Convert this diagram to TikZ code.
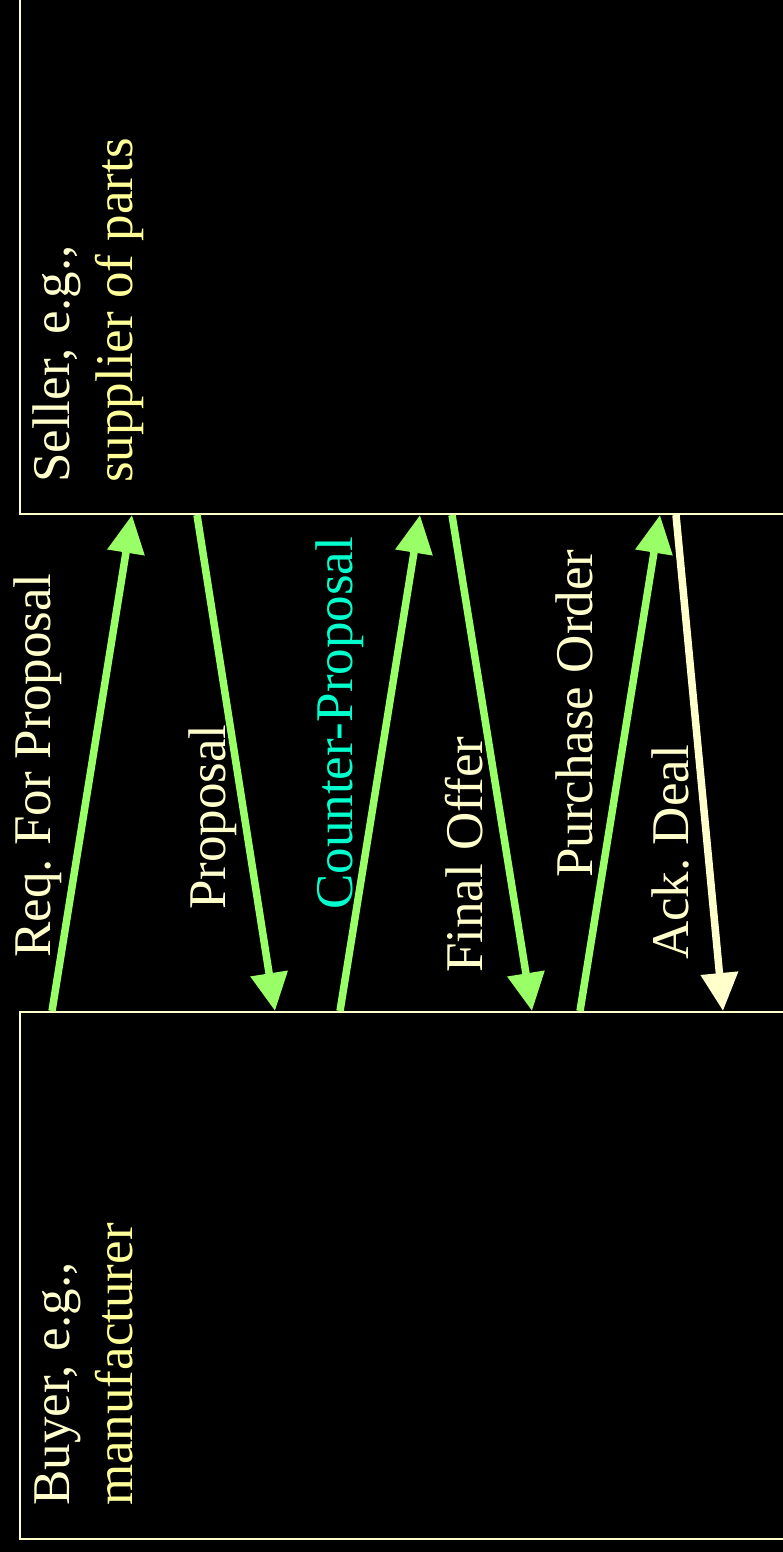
\documentclass[tikz,border=0pt]{standalone}
\usepackage{fontspec}
\setmainfont{Liberation Serif}
\usepackage{tikz}
\usetikzlibrary{arrows.meta, positioning, calc}
\definecolor{negGreen}{HTML}{99FF66}
\definecolor{negCream}{HTML}{FFFFCC}
\definecolor{negYellow}{HTML}{FFFF99}
\definecolor{negCyan}{HTML}{00FFCC}
\definecolor{negBlack}{HTML}{000000}
\frenchspacing

\begin{document}
\begin{tikzpicture}[
  x=1pt, y=-1pt,
  %% --- Node styles ---
  party/.style={
    rectangle, draw=negCream, line width=2.2pt,
    minimum width=800pt, inner sep=0pt
  },
  partytext/.style={
    rotate=90, anchor=north west, inner sep=0pt,
    align=left, font=\fontsize{53}{63}\selectfont\frenchspacing, text=negCream
  },
  msgtext/.style={
    rotate=90, anchor=base west, inner sep=0pt,
    font=\fontsize{53}{63}\selectfont\frenchspacing, text=negCream
  },
  %% --- Arrow style ---
  arrow/.style={-{Triangle[length=38pt, width=36pt]}, line width=7.5pt, draw=negGreen},
  arrowCream/.style={-{Triangle[length=38pt, width=36pt]}, line width=7.5pt, draw=negCream}
]

%% =========================================================
%% CANVAS
%% =========================================================
\useasboundingbox (0,0) rectangle (783,1552);
\fill[negBlack] (0,0) rectangle (783,1552);
\clip (0,0) rectangle (783,1552);

%% =========================================================
%% PARTIES
%% =========================================================
\node (seller) [party, minimum height=540pt, anchor=south west] at (19,515) {};
\node (buyer)  [party, minimum height=527pt, anchor=north west] at (19,1011) {};

\node (sellerText) [partytext] at (33,483)
      {Seller, e.g.,\\\textcolor{negYellow}{supplier of parts}};
\node (buyerText)  [partytext] at (35,1506)
      {Buyer, e.g.,\\\textcolor{negYellow}{manufacturer}};

%% =========================================================
%% MESSAGE LABELS
%% =========================================================
\node (rfpText)      [msgtext] at (50,958)  {Req. For Proposal};
\node (propText)     [msgtext] at (225,910) {Proposal};
\node (counterText)  [msgtext, text=negCyan] at (352,910) {Counter-Proposal};
\node (finalText)    [msgtext] at (482,973) {Final Offer};
\node (orderText)    [msgtext] at (592,878) {Purchase Order};
\node (ackText)      [msgtext] at (688,960) {Ack. Deal};

%% =========================================================
%% MESSAGES
%% =========================================================
\draw[arrow] ([xshift=33pt]buyer.north west)   -- ([xshift=113pt]seller.south west);
\draw[arrow] ([xshift=178pt]seller.south west) -- ([xshift=256pt]buyer.north west);
\draw[arrow] ([xshift=321pt]buyer.north west)  -- ([xshift=401pt]seller.south west);
\draw[arrow] ([xshift=433pt]seller.south west) -- ([xshift=513pt]buyer.north west);
\draw[arrow] ([xshift=561pt]buyer.north west)  -- ([xshift=641pt]seller.south west);
\draw[arrowCream] ([xshift=657pt]seller.south west) -- ([xshift=704pt]buyer.north west);

\end{tikzpicture}
\end{document}
